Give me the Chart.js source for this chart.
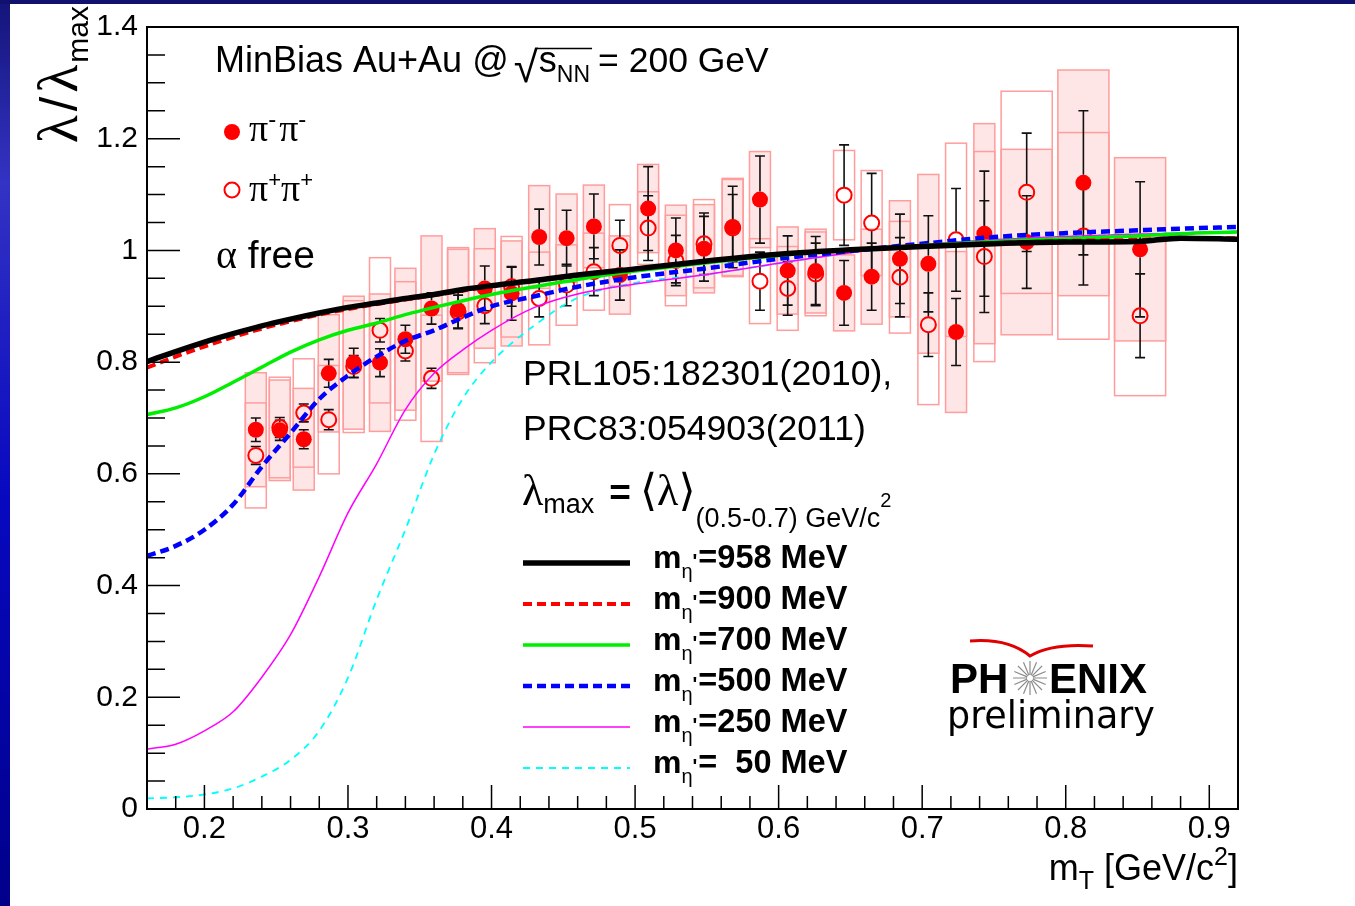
<!DOCTYPE html>
<html>
<head>
<meta charset="utf-8">
<title>λ/λmax vs mT</title>
<script src="https://cdn.jsdelivr.net/npm/chart.js@4.4.1/dist/chart.umd.min.js"></script>
<style>
html, body { margin: 0; padding: 0; background: #fff; }
#wrap { position: relative; width: 1355px; height: 906px; }
</style>
</head>
<body>
<div id="wrap"><canvas id="lambdaChart" width="1355" height="906"></canvas></div>
<script>
// ── Axis ticks ──────────────────────────────────────────────
const xTicks = [0.2, 0.3, 0.4, 0.5, 0.6, 0.7, 0.8, 0.9];

// ── Measured points (mT bins, GeV/c^2) ──────────────────────
const mT = [0.2358, 0.2525, 0.2692, 0.2866, 0.3040, 0.3223, 0.3400, 0.3582, 0.3767, 0.3953,
            0.4140, 0.4332, 0.4523, 0.4713, 0.4894, 0.5091, 0.5284, 0.5480, 0.5680, 0.5870,
            0.6063, 0.6258, 0.6456, 0.6648, 0.6845, 0.7043, 0.7236, 0.7433, 0.7728, 0.8123, 0.8518];
const binWidth = [0.0146, 0.0146, 0.0146, 0.0146, 0.0146, 0.0146, 0.0146, 0.0146, 0.0146, 0.0146,
                  0.0146, 0.0146, 0.0146, 0.0146, 0.0146, 0.0146, 0.0146, 0.0146, 0.0146, 0.0146,
                  0.0146, 0.0146, 0.0146, 0.0146, 0.0146, 0.0146, 0.0146, 0.0146, 0.0356, 0.0356, 0.0356];

// pi- pi-
const lamNeg  = [0.679, 0.678, 0.662, 0.780, 0.799, 0.799, 0.841, 0.896, 0.893, 0.932,
                 0.923, 1.024, 1.022, 1.043, 0.956, 1.075, 1.000, 1.003, 1.042, 1.091,
                 0.964, 0.963, 0.924, 0.953, 0.985, 0.976, 0.854, 1.030, 1.015, 1.121, 1.002];
const statNeg = [0.021, 0.018, 0.017, 0.025, 0.026, 0.025, 0.025, 0.028, 0.032, 0.040,
                 0.048, 0.050, 0.050, 0.058, 0.045, 0.075, 0.058, 0.058, 0.073, 0.078,
                 0.062, 0.062, 0.058, 0.060, 0.080, 0.086, 0.060, 0.112, 0.083, 0.129, 0.121];
const sysNeg  = [0.102, 0.090, 0.091, 0.105, 0.119, 0.123, 0.127, 0.130, 0.112, 0.107,
                 0.094, 0.092, 0.079, 0.074, 0.070, 0.079, 0.081, 0.079, 0.087, 0.086,
                 0.078, 0.075, 0.068, 0.085, 0.104, 0.160, 0.144, 0.197, 0.166, 0.202, 0.164];

// pi+ pi+
const lamPos  = [0.633, 0.683, 0.709, 0.697, 0.792, 0.857, 0.820, 0.771, 0.890, 0.901,
                 0.935, 0.914, 0.938, 0.962, 1.009, 1.040, 0.982, 1.012, 1.040, 0.945,
                 0.932, 0.958, 1.099, 1.049, 0.952, 0.867, 1.019, 0.989, 1.104, 1.026, 0.883];
const statPos = [0.016, 0.018, 0.016, 0.018, 0.020, 0.021, 0.018, 0.018, 0.030, 0.032,
                 0.035, 0.033, 0.037, 0.043, 0.045, 0.058, 0.045, 0.055, 0.060, 0.052,
                 0.048, 0.055, 0.090, 0.089, 0.071, 0.057, 0.092, 0.100, 0.106, 0.088, 0.075];
const sysPos  = [0.094, 0.090, 0.097, 0.097, 0.118, 0.130, 0.124, 0.113, 0.112, 0.102,
                 0.090, 0.083, 0.072, 0.069, 0.073, 0.065, 0.081, 0.079, 0.087, 0.076,
                 0.075, 0.075, 0.080, 0.094, 0.100, 0.143, 0.173, 0.188, 0.181, 0.185, 0.143];

// ── Model curves for several eta' masses ────────────────────
const curveMT = [0.16, 0.18, 0.20, 0.22, 0.24, 0.26, 0.28, 0.30, 0.32, 0.34, 0.36, 0.38, 0.40,
                 0.43, 0.46, 0.50, 0.55, 0.60, 0.65, 0.70, 0.75, 0.80, 0.85, 0.88, 0.92];
const eta958 = [0.801, 0.819, 0.836, 0.851, 0.865, 0.877, 0.888, 0.898, 0.906, 0.914, 0.921, 0.930, 0.937,
                0.946, 0.956, 0.967, 0.981, 0.993, 1.001, 1.007, 1.012, 1.015, 1.016, 1.022, 1.020];
const eta900 = [0.790, 0.810, 0.828, 0.845, 0.860, 0.873, 0.885, 0.895, 0.904, 0.912, 0.920, 0.928, 0.936,
                0.946, 0.956, 0.967, 0.981, 0.993, 1.001, 1.008, 1.013, 1.017, 1.019, 1.022, 1.022];
const eta700 = [0.706, 0.718, 0.738, 0.764, 0.791, 0.818, 0.840, 0.857, 0.870, 0.885, 0.898, 0.910, 0.921,
                0.935, 0.948, 0.963, 0.978, 0.991, 1.001, 1.009, 1.016, 1.021, 1.026, 1.030, 1.033];
const eta500 = [0.453, 0.471, 0.500, 0.545, 0.613, 0.673, 0.734, 0.776, 0.810, 0.838, 0.857, 0.880, 0.900,
                0.918, 0.935, 0.952, 0.968, 0.985, 0.999, 1.012, 1.024, 1.031, 1.036, 1.039, 1.042];
const eta250 = [0.107, 0.116, 0.140, 0.174, 0.236, 0.312, 0.416, 0.530, 0.618, 0.715, 0.780, 0.822, 0.857,
                0.898, 0.922, 0.940, 0.957, 0.977, 0.996, 1.010, 1.019, 1.025, 1.029, 1.031, 1.034];
const eta50  = [0.019, 0.021, 0.026, 0.037, 0.058, 0.088, 0.140, 0.235, 0.375, 0.500, 0.635, 0.735, 0.800,
                0.866, 0.915, 0.942, 0.957, 0.977, 0.996, 1.010, 1.019, 1.025, 1.029, 1.031, 1.034];

const SANS  = '"Liberation Sans", Arial, sans-serif';
const SERIF = '"Liberation Serif", "DejaVu Serif", serif';
const BOX_FILL = '#ffe6e6';
const BOX_LINE = '#ff9d9d';

const models = [
    { text: '=958 MeV',  values: eta958, color: '#000000', width: 5.5, dash: [] },
    { text: '=900 MeV',  values: eta900, color: '#ff0000', width: 4,   dash: [9, 5] },
    { text: '=700 MeV',  values: eta700, color: '#00ee00', width: 3.5, dash: [] },
    { text: '=500 MeV',  values: eta500, color: '#0000ff', width: 4.5, dash: [9, 5] },
    { text: '=250 MeV',  values: eta250, color: '#ff00ff', width: 1.5, dash: [] },
    { text: '=  50 MeV', values: eta50,  color: '#00ffff', width: 1.8, dash: [7, 6] },
];

// draws a sequence of text pieces (sizes / offsets) on one baseline
function drawRuns(ctx, x, y, parts, align) {
    const fontOf = p => `${p.w || 'normal'} ${p.s}px ${p.f || SANS}`;
    const widths = parts.map(p => { ctx.font = fontOf(p); return ctx.measureText(p.t).width + (p.sp || 0); });
    const total = widths.reduce((a, b) => a + b, 0);
    let cx = align === 'right' ? x - total : x;
    parts.forEach((p, i) => {
        ctx.font = fontOf(p);
        ctx.fillText(p.t, cx, y + (p.dy || 0));
        cx += widths[i];
    });
    return cx;
}

// ── Plugins ─────────────────────────────────────────────────
const backdrop = {
    id: 'backdrop',
    beforeDraw(chart) {
        const { ctx, width, height } = chart;
        ctx.save();
        ctx.fillStyle = '#fff';
        ctx.fillRect(0, 0, width, height);
        const g = ctx.createLinearGradient(0, 0, 0, height);
        g.addColorStop(0, '#14147a');
        g.addColorStop(0.2, '#3333c4');
        g.addColorStop(0.55, '#0808c0');
        g.addColorStop(1, '#00008a');
        ctx.fillStyle = g;
        ctx.fillRect(0, 0, 10, height);
        ctx.fillStyle = '#10106e';
        ctx.fillRect(0, 0, width, 4);
        ctx.restore();
    }
};

// systematic boxes and statistical error bars
const errors = {
    id: 'errors',
    beforeDatasetsDraw(chart) {
        const { ctx, scales: { x, y } } = chart;
        ctx.save();
        const box = (i, v, sys, filled) => {
            const l = x.getPixelForValue(mT[i] - binWidth[i] / 2);
            const r = x.getPixelForValue(mT[i] + binWidth[i] / 2);
            const t = y.getPixelForValue(v + sys);
            const b = y.getPixelForValue(v - sys);
            if (filled) { ctx.fillStyle = BOX_FILL; ctx.fillRect(l, t, r - l, b - t); }
            ctx.strokeStyle = BOX_LINE;
            ctx.lineWidth = 1.5;
            ctx.strokeRect(l, t, r - l, b - t);
        };
        mT.forEach((_, i) => box(i, lamNeg[i], sysNeg[i], true));
        mT.forEach((_, i) => box(i, lamPos[i], sysPos[i], false));

        const bar = (i, v, err, gap) => {
            const px = x.getPixelForValue(mT[i]);
            const py = y.getPixelForValue(v);
            const t = y.getPixelForValue(v + err);
            const b = y.getPixelForValue(v - err);
            ctx.strokeStyle = '#111';
            ctx.lineWidth = 1.6;
            ctx.beginPath();
            if (py - t > gap) { ctx.moveTo(px, t); ctx.lineTo(px, py - gap); }
            if (b - py > gap) { ctx.moveTo(px, py + gap); ctx.lineTo(px, b); }
            ctx.moveTo(px - 5, t); ctx.lineTo(px + 5, t);
            ctx.moveTo(px - 5, b); ctx.lineTo(px + 5, b);
            ctx.stroke();
        };
        mT.forEach((_, i) => bar(i, lamPos[i], statPos[i], 8));
        mT.forEach((_, i) => bar(i, lamNeg[i], statNeg[i], 8));
        ctx.restore();
    }
};

// frame plus inward major/minor ticks
const frame = {
    id: 'frame',
    afterDatasetsDraw(chart) {
        const { ctx, chartArea: a, scales: { x, y } } = chart;
        ctx.save();
        ctx.strokeStyle = '#000';
        ctx.lineWidth = 1.5;
        ctx.beginPath();
        const xt = x.ticks.map(t => t.value);
        const xs = (xt[1] - xt[0]) / 5;
        for (let k = -5; k <= (xt.length - 1) * 5 + 5; k++) {
            const v = +(xt[0] + k * xs).toFixed(4);
            if (v < x.min || v > x.max) continue;
            const px = x.getPixelForValue(v);
            ctx.moveTo(px, a.bottom);
            ctx.lineTo(px, a.bottom - (k % 5 === 0 ? 24 : 13));
        }
        const yt = y.ticks.map(t => t.value);
        const ys = (yt[1] - yt[0]) / 4;
        for (let k = 0; k <= (yt.length - 1) * 4; k++) {
            const v = +(yt[0] + k * ys).toFixed(4);
            const py = y.getPixelForValue(v);
            ctx.moveTo(a.left, py);
            ctx.lineTo(a.left + (k % 4 === 0 ? 33 : 18), py);
        }
        ctx.stroke();
        ctx.lineWidth = 2;
        ctx.strokeRect(a.left, a.top, a.right - a.left, a.bottom - a.top);
        ctx.restore();
    }
};

// titles, annotations, legend and logo
const labels = {
    id: 'labels',
    afterDraw(chart) {
        const { ctx } = chart;
        ctx.save();
        ctx.fillStyle = '#000';
        ctx.textBaseline = 'alphabetic';

        // y title, rotated
        ctx.save();
        ctx.translate(77, 6);
        ctx.rotate(-Math.PI / 2);
        drawRuns(ctx, 0, 0, [
            { t: 'λ', s: 58, f: SERIF, sp: 4 }, { t: '/', s: 52, sp: 4 }, { t: 'λ', s: 58, f: SERIF, sp: 2 },
            { t: 'max', s: 30, dy: 11 }
        ], 'right');
        ctx.restore();

        // x title
        drawRuns(ctx, 1238, 880, [
            { t: 'm', s: 36 }, { t: 'T', s: 25, dy: 9 }, { t: ' [GeV/c', s: 36 },
            { t: '2', s: 25, dy: -15 }, { t: ']', s: 36 }
        ], 'right');

        // system label with sqrt(s_NN)
        let cx = drawRuns(ctx, 215, 72, [{ t: 'MinBias Au+Au @', s: 36 }]);
        cx += 5;
        ctx.font = `normal 44px ${SANS}`;
        const rad = ctx.measureText('√');
        ctx.fillText('√', cx, 82);
        const barY = 82 - rad.actualBoundingBoxAscent + 1.5;
        const sx = cx + rad.width;
        const ex = drawRuns(ctx, sx + 1, 72, [{ t: 's', s: 36 }, { t: 'NN', s: 23, dy: 10 }]);
        ctx.strokeStyle = '#000';
        ctx.lineWidth = 1.6;
        ctx.beginPath(); ctx.moveTo(sx - 1, barY); ctx.lineTo(ex + 2, barY); ctx.stroke();
        drawRuns(ctx, ex + 8, 72, [{ t: '= 200 GeV', s: 35.5 }]);

        // marker legend
        const neg = chart.data.datasets[6], pos = chart.data.datasets[7];
        ctx.fillStyle = neg.backgroundColor;
        ctx.beginPath(); ctx.arc(232, 132, neg.pointRadius, 0, Math.PI * 2); ctx.fill();
        ctx.strokeStyle = pos.borderColor;
        ctx.lineWidth = pos.borderWidth;
        ctx.beginPath(); ctx.arc(232, 190, pos.pointRadius, 0, Math.PI * 2); ctx.stroke();
        ctx.fillStyle = '#000';
        drawRuns(ctx, 249, 141, [
            { t: 'π', s: 38, f: SERIF }, { t: '-', s: 24, dy: -14, sp: 3 },
            { t: 'π', s: 38, f: SERIF }, { t: '-', s: 24, dy: -14 }
        ]);
        drawRuns(ctx, 249, 201, [
            { t: 'π', s: 38, f: SERIF }, { t: '+', s: 22, dy: -14 },
            { t: 'π', s: 38, f: SERIF }, { t: '+', s: 22, dy: -14 }
        ]);
        drawRuns(ctx, 216, 268, [{ t: 'α', s: 40, f: SERIF }, { t: ' free', s: 39 }]);

        // references
        drawRuns(ctx, 523, 385, [{ t: 'PRL105:182301(2010),', s: 35.5 }]);
        drawRuns(ctx, 523, 440, [{ t: 'PRC83:054903(2011)', s: 35.5 }]);

        // normalisation
        drawRuns(ctx, 522, 505, [
            { t: 'λ', s: 44, f: SERIF }, { t: 'max', s: 27, dy: 8, sp: 15 },
            { t: '=', s: 37, w: 'bold', sp: 9 },
            { t: '⟨λ⟩', s: 44, f: SERIF },
            { t: '(0.5-0.7) GeV/c', s: 27, dy: 22 }, { t: '2', s: 20, dy: 2 }
        ]);

        // model legend
        models.forEach((m, i) => {
            const ly = 563 + i * 41;
            const ds = chart.data.datasets[i];
            ctx.strokeStyle = ds.borderColor;
            ctx.lineWidth = ds.borderWidth;
            ctx.setLineDash(ds.borderDash);
            ctx.beginPath(); ctx.moveTo(523, ly); ctx.lineTo(630, ly); ctx.stroke();
            ctx.setLineDash([]);
            ctx.fillStyle = '#000';
            drawRuns(ctx, 653, ly + 5, [
                { t: 'm', s: 32, w: 'bold' }, { t: 'η', s: 20, dy: 10 },
                { t: "'", s: 20, w: 'bold', sp: 1 }, { t: m.text, s: 32.5, w: 'bold' }
            ]);
        });

        // experiment logo
        ctx.strokeStyle = '#e00000';
        ctx.lineWidth = 3;
        ctx.beginPath();
        ctx.moveTo(970, 641);
        ctx.quadraticCurveTo(1008, 638, 1030, 656);
        ctx.quadraticCurveTo(1052, 643, 1093, 646);
        ctx.stroke();
        ctx.fillStyle = '#000';
        drawRuns(ctx, 950, 693, [{ t: 'PH', s: 42, w: 'bold' }]);
        drawRuns(ctx, 1049, 693, [{ t: 'ENIX', s: 42, w: 'bold' }]);
        ctx.strokeStyle = '#8c8c8c';
        ctx.lineWidth = 1.2;
        ctx.beginPath();
        for (let k = 0; k < 16; k++) {
            const ang = k * Math.PI / 8;
            ctx.moveTo(1030 + Math.cos(ang) * 3, 678 + Math.sin(ang) * 3);
            ctx.lineTo(1030 + Math.cos(ang) * 17, 678 + Math.sin(ang) * 17);
        }
        ctx.stroke();
        drawRuns(ctx, 947, 728, [{ t: 'preliminary', s: 36.5, f: '"DejaVu Sans", sans-serif' }]);
        ctx.restore();
    }
};

// ── Chart ───────────────────────────────────────────────────
const curveSets = models.map((m, i) => ({
    type: 'line',
    data: curveMT.map((v, k) => ({ x: v, y: m.values[k] })),
    borderColor: m.color,
    borderWidth: m.width,
    borderDash: m.dash,
    pointRadius: 0,
    fill: false,
    cubicInterpolationMode: 'monotone',
    order: i
}));

new Chart(document.getElementById('lambdaChart'), {
    type: 'scatter',
    data: {
        datasets: [
            ...curveSets,
            { type: 'scatter', data: mT.map((v, i) => ({ x: v, y: lamNeg[i] })),
              pointRadius: 8, backgroundColor: '#ff0000', borderColor: '#ff0000', borderWidth: 0, order: 6 },
            { type: 'scatter', data: mT.map((v, i) => ({ x: v, y: lamPos[i] })),
              pointRadius: 7.5, backgroundColor: 'rgba(0,0,0,0)', borderColor: '#ff0000', borderWidth: 2, order: 7 },
        ]
    },
    options: {
        responsive: false,
        animation: false,
        events: [],
        layout: { padding: { left: 0, top: 24, right: 117, bottom: 0 } },
        plugins: { legend: { display: false }, tooltip: { enabled: false } },
        scales: {
            x: {
                type: 'linear', min: 0.16, max: 0.92,
                grid: { display: false, drawTicks: false }, border: { display: false },
                ticks: { color: '#000', font: { family: SANS, size: 31 }, padding: 2, autoSkip: false, maxRotation: 0, minRotation: 0 },
                afterBuildTicks: s => { s.ticks = xTicks.map(v => ({ value: v })); },
                afterFit: s => { s.height = 97; }
            },
            y: {
                type: 'linear', min: 0, max: 1.4,
                grid: { display: false, drawTicks: false }, border: { display: false },
                ticks: { stepSize: 0.2, color: '#000', font: { family: SANS, size: 30 }, padding: 9,
                         callback: v => String(+v.toFixed(2)) },
                afterFit: s => { s.width = 147; }
            }
        }
    },
    plugins: [backdrop, errors, frame, labels]
});
</script>
</body>
</html>
